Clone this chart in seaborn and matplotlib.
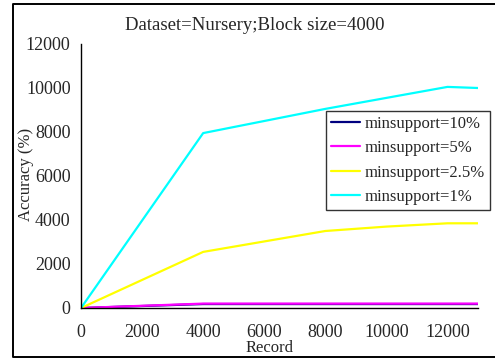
import pandas as pd
import matplotlib
matplotlib.use("Agg")
import matplotlib.pyplot as plt
import seaborn as sns
from matplotlib.lines import Line2D

# data
records = [0, 4000, 8000, 10000, 12000, 13000]
acc_10 = [0, 180, 180, 180, 180, 180]
acc_5 = [0, 200, 200, 200, 200, 200]
acc_2_5 = [0, 2550, 3500, 3700, 3850, 3850]
acc_1 = [0, 7950, 9050, 9550, 10050, 10000]
labels = ["minsupport=10%", "minsupport=5%", "minsupport=2.5%", "minsupport=1%"]
colors = ["#00007f", "#ff00ff", "#ffff00", "#00ffff"]

sns.set_style("white")
plt.rcParams['font.family'] = ['Liberation Serif', 'DejaVu Serif']

fig = plt.figure(figsize=(4.95, 3.58), dpi=100)
ax = fig.add_axes([81 / 495, 1 - 308 / 358, (478 - 81) / 495, (308 - 44) / 358])

for vals, lab, col in zip([acc_10, acc_5, acc_2_5, acc_1], labels, colors):
    sns.lineplot(x=records, y=vals, ax=ax, color=col, label=lab, linewidth=1.6)

ax.set_xlim(0, 13000)
ax.set_ylim(0, 12000)
ax.set_xticks(range(0, 13000, 2000))
ax.set_yticks(range(0, 12001, 2000))
ax.tick_params(axis='x', direction='in', length=4, labelsize=13, pad=11.5)
ax.tick_params(axis='y', direction='out', length=4, labelsize=13, pad=3.5)
for s in ['top', 'right']:
    ax.spines[s].set_visible(False)
for s in ['left', 'bottom']:
    ax.spines[s].set_color('black')
    ax.spines[s].set_linewidth(1)

ax.set_xlabel("Record", fontsize=12)
ax.set_ylabel("Accuracy (%)", fontsize=12)
ax.xaxis.set_label_coords(0.476, -0.122)
ax.yaxis.set_label_coords(-0.118, 0.505)

fig.text(255 / 495, 1 - 25 / 358, "Dataset=Nursery;Block size=4000",
         fontsize=13.5, ha='center', va='center')

leg = ax.legend(loc='upper right', bbox_to_anchor=(490 / 495, 1 - 111 / 358),
                bbox_transform=fig.transFigure, prop={'size': 12},
                frameon=True, fancybox=False, handlelength=1.7, handletextpad=0.3,
                labelspacing=0.5, borderpad=0.3, borderaxespad=0)
leg.get_frame().set_edgecolor('black')
leg.get_frame().set_linewidth(1)

# outer frame of the original picture (right side falls outside the image)
fx0, fx1 = 13 / 495, 1.01
fy0, fy1 = 1 - 357 / 358, 1 - 4 / 358
fig.add_artist(Line2D([fx1, fx0, fx0, fx1], [fy1, fy1, fy0, fy0],
                      transform=fig.transFigure, color='black', linewidth=1.4))

fig.savefig("out.png", dpi=100)
plt.close()
